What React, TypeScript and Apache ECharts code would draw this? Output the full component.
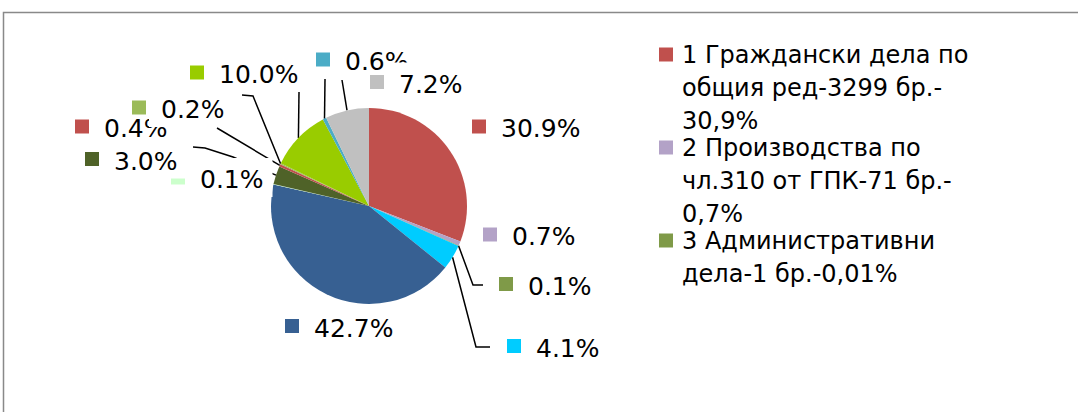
import React, { useEffect, useRef } from "react";
import * as echarts from "echarts";

// ---- data ----
const categories: string[] = [
  "1 Граждански дела по общия ред-3299 бр.-30,9%",
  "2 Производства по чл.310 от ГПК-71 бр.-0,7%",
  "3 Административни дела-1 бр.-0,01%",
  "4",
  "5",
  "6",
  "7",
  "8",
  "9",
  "10",
  "11",
  "12",
];
const shares: number[] = [30.9, 0.7, 0.1, 4.1, 42.7, 0.1, 3.0, 0.4, 0.2, 10.0, 0.6, 7.2];
const legendShown: string[] = categories.slice(0, 3);

// ---- styles / layout ----
const sliceColors: string[] = [
  "#C0504D",
  "#B3A2C7",
  "#7F9A48",
  "#00CCFF",
  "#376092",
  "#CCFFCC",
  "#4F6228",
  "#C0504D",
  "#9BBB59",
  "#99CC00",
  "#4BACC6",
  "#C0C0C0",
];
// label anchor: [marker left x, marker centre y]
const labelAnchors: [number, number][] = [
  [472, 126.5],
  [483, 234.5],
  [499, 284],
  [507, 346],
  [285, 326],
  [171, 177.5],
  [85, 159],
  [75, 126.5],
  [132, 107.5],
  [190, 72.5],
  [316, 59.5],
  [370, 82],
];
// leader-line bends/ends after the slice point given by the library (null = no leader)
const leaderPaths: (number[][] | null)[] = [
  null,
  null,
  [[473, 285], [483, 285]],
  [[476, 347], [490, 347]],
  null,
  null,
  [[233, 157], [205, 148], [193, 147]],
  [[217, 128]],
  [[253, 96], [242, 95]],
  [[299, 92]],
  [[325, 79]],
  [[342, 80]],
];
const FONT = "'DejaVu Sans', Verdana, sans-serif";
const LEGEND_FONT_SIZE = 24;
const LABEL_FONT_SIZE = 25;

function wrapName(name: string, maxW: number, ctx: CanvasRenderingContext2D): string[] {
  const words = name.split(" ");
  const pieces: { t: string; space: boolean }[] = [];
  words.forEach((w, wi) => {
    const parts = w.split(/(?<=-)/);
    parts.forEach((p, pi) => pieces.push({ t: p, space: wi > 0 && pi === 0 }));
  });
  const lines: string[] = [];
  let cur = "";
  pieces.forEach((p) => {
    const cand = cur === "" ? p.t : cur + (p.space ? " " : "") + p.t;
    if (cur !== "" && ctx.measureText(cand).width > maxW) {
      lines.push(cur);
      cur = p.t;
    } else {
      cur = cand;
    }
  });
  if (cur) lines.push(cur);
  return lines;
}

export default function App() {
  const ref = useRef<HTMLDivElement>(null);

  useEffect(() => {
    if (!ref.current) return;
    const chart = echarts.init(ref.current, undefined, { renderer: "svg" });

    const canvas = document.createElement("canvas");
    const ctx = canvas.getContext("2d") as CanvasRenderingContext2D;
    ctx.font = `${LEGEND_FONT_SIZE}px 'DejaVu Sans'`;

    const markerRich: any = {};
    sliceColors.forEach((c, i) => {
      markerRich["m" + i] = { width: 14, height: 14, backgroundColor: c };
    });

    const labelRich: any = {
      ...markerRich,
      g: { width: 3 },
      t: {
        fontFamily: FONT,
        fontSize: LABEL_FONT_SIZE,
        lineHeight: 30,
        color: "#000",
        backgroundColor: "#fff",
        padding: [9, 9, 5, 12],
      },
    };

    const legendRich: any = {
      ...markerRich,
      g: { width: 9 },
      f: { fontFamily: FONT, fontSize: LEGEND_FONT_SIZE, lineHeight: 33, color: "#000" },
      n: {
        fontFamily: FONT,
        fontSize: LEGEND_FONT_SIZE,
        lineHeight: 33,
        color: "#000",
        padding: [0, 0, 0, 23],
      },
    };

    const option: any = {
      animation: false,
      backgroundColor: "#fff",
      graphic: [
        {
          type: "rect",
          shape: { x: 3.5, y: 12.5, width: 1200, height: 600 },
          style: { fill: "none", stroke: "#898989", lineWidth: 1.5 },
          silent: true,
          z: 0,
        },
      ],
      legend: {
        orient: "vertical",
        left: 654,
        top: 42.5,
        padding: 0,
        itemGap: 3,
        itemWidth: 0,
        itemHeight: 0,
        selectedMode: false,
        data: legendShown,
        textStyle: { fontFamily: FONT, fontSize: LEGEND_FONT_SIZE, color: "#000", rich: legendRich },
        formatter: (name: string) => {
          const i = categories.indexOf(name);
          const lines = wrapName(name, 305, ctx);
          let s = `{m${i}|}{g|}{f|${lines[0]}}`;
          for (let k = 1; k < lines.length; k++) s += `\n{n|${lines[k]}}`;
          return s;
        },
      },
      series: [
        {
          type: "pie",
          center: [369, 206],
          radius: 98,
          startAngle: 90,
          clockwise: true,
          avoidLabelOverlap: false,
          emphasis: { disabled: true },
          data: categories.map((name, i) => ({
            name,
            value: shares[i],
            itemStyle: { color: sliceColors[i] },
            labelLine: { show: leaderPaths[i] !== null },
          })),
          label: {
            show: true,
            position: "outside",
            fontFamily: FONT,
            fontSize: LABEL_FONT_SIZE,
            color: "#000",
            formatter: (p: any) => `{m${p.dataIndex}|}{g|}{t|${Number(p.value).toFixed(1)}%}`,
            rich: labelRich,
          },
          labelLine: {
            show: true,
            length: 8,
            length2: 8,
            lineStyle: { color: "#000", width: 1.5 },
          },
          labelLayout: (p: any) => {
            const i = p.dataIndex;
            const res: any = {
              x: labelAnchors[i][0],
              y: labelAnchors[i][1],
              align: "left",
              verticalAlign: "middle",
            };
            const path = leaderPaths[i];
            if (path && p.labelLinePoints && p.labelLinePoints.length) {
              res.labelLinePoints = [p.labelLinePoints[0].slice(), ...path.map((q) => q.slice())];
            }
            return res;
          },
        },
      ],
    };

    chart.setOption(option);
    return () => chart.dispose();
  }, []);

  return (
    <div
      ref={ref}
      style={{ position: "fixed", left: 0, top: 0, width: 1078, height: 412 }}
    />
  );
}
